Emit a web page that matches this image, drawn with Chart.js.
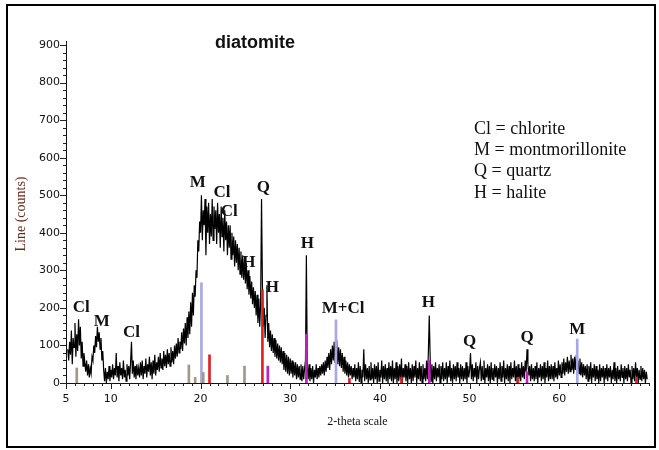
<!DOCTYPE html>
<html>
<head>
<meta charset="utf-8">
<script src="https://cdn.jsdelivr.net/npm/chart.js@4.4.0/dist/chart.umd.min.js"></script>
<style>
  html, body { margin: 0; padding: 0; background: #fff; }
  #xrd { display: block; }
</style>
</head>
<body>
<canvas id="xrd" width="659" height="450"></canvas>
<script>
// XRD scan of diatomite: 2-theta from 5.2 to 69.8 deg, step 0.1, counts
const scanStart = 5.2;
const scanStep = 0.1;
const scanCounts = [
    90, 60, 110, 75, 140, 50, 120, 95, 160, 70, 130, 85, 170, 100, 150, 65, 110, 45, 80, 55,
    30, 60, 20, 50, 15, 40, 25, 70, 60, 100, 80, 125, 95, 150, 110, 135, 90, 120, 60, 85,
    35, 5, 40, 0, 30, 10, 45, 5, 35, 15, 50, 10, 40, 20, 80, 15, 45, 5, 55, 20,
    40, 10, 60, 15, 35, 5, 50, 20, 45, 10, 55, 110, 25, 60, 15, 45, 10, 50, 20, 40,
    15, 55, 20, 60, 10, 45, 25, 65, 15, 50, 30, 70, 20, 55, 10, 60, 25, 75, 20, 55,
    35, 70, 30, 80, 40, 65, 35, 85, 45, 75, 40, 90, 50, 80, 45, 95, 55, 85, 50, 100,
    65, 105, 70, 120, 80, 110, 90, 135, 85, 145, 105, 160, 100, 175, 120, 190, 130, 215, 150, 240,
    180, 260, 230, 300, 280, 380, 350, 430, 400, 500, 380, 460, 420, 490, 340, 470, 400, 480, 370, 450,
    390, 490, 380, 470, 410, 460, 370, 480, 400, 450, 360, 470, 390, 440, 350, 460, 380, 430, 340, 420,
    360, 420, 330, 400, 340, 390, 310, 380, 320, 370, 300, 360, 290, 350, 280, 340, 275, 330, 265, 320,
    250, 300, 235, 285, 225, 270, 210, 255, 200, 245, 180, 235, 160, 225, 150, 210, 490, 260, 150, 200,
    120, 180, 260, 110, 160, 95, 140, 85, 130, 80, 120, 70, 115, 65, 105, 60, 100, 55, 95, 50,
    85, 35, 80, 30, 75, 25, 70, 20, 65, 25, 60, 15, 55, 20, 55, 10, 50, 15, 45, 10,
    50, 5, 45, 10, 40, 60, 340, 45, 10, 50, 5, 40, 10, 45, 0, 35, 15, 50, 10, 40,
    15, 45, 20, 50, 25, 55, 20, 60, 30, 70, 40, 80, 35, 90, 50, 100, 60, 110, 55, 95,
    105, 50, 95, 45, 90, 40, 80, 30, 70, 25, 60, 20, 55, 15, 50, 20, 45, 10, 40, 15,
    50, 5, 40, 10, 55, 3, 45, 0, 35, 15, 90, 5, 50, 10, 40, 0, 45, 8, 55, 10,
    40, 0, 50, 10, 45, 0, 55, 5, 35, 15, 60, 0, 45, 10, 50, 5, 40, 0, 55, 10,
    45, 5, 60, 0, 40, 10, 55, 0, 45, 5, 50, 10, 65, 0, 40, 15, 50, 5, 45, 0,
    55, 10, 40, 0, 50, 5, 45, 15, 60, 0, 40, 10, 55, 5, 45, 0, 50, 10, 40, 5,
    60, 10, 80, 180, 70, 5, 50, 0, 45, 10, 55, 5, 40, 15, 50, 0, 45, 10, 55, 5,
    40, 10, 55, 0, 45, 15, 60, 5, 40, 0, 50, 10, 45, 5, 55, 15, 40, 0, 50, 10,
    45, 5, 40, 10, 55, 0, 45, 15, 35, 80, 10, 50, 5, 40, 15, 55, 0, 45, 10, 40,
    55, 5, 45, 10, 60, 0, 40, 15, 50, 5, 45, 0, 55, 10, 40, 5, 50, 15, 45, 0,
    40, 10, 55, 5, 45, 15, 60, 0, 40, 10, 50, 5, 45, 0, 55, 10, 40, 15, 60, 5,
    45, 0, 50, 10, 40, 5, 55, 15, 45, 10, 60, 30, 90, 50, 20, 45, 5, 50, 10, 40,
    5, 45, 10, 55, 0, 40, 15, 50, 5, 45, 10, 55, 0, 40, 15, 60, 5, 45, 10, 50,
    10, 45, 5, 55, 15, 40, 10, 60, 20, 50, 15, 55, 25, 65, 20, 55, 30, 70, 25, 60,
    30, 75, 35, 65, 25, 70, 35, 75, 30, 60, 25, 65, 20, 55, 15, 50, 20, 45, 10, 50,
    5, 45, 10, 55, 0, 40, 15, 50, 5, 45, 10, 35, 0, 50, 5, 40, 15, 45, 0, 40,
    10, 50, 5, 40, 15, 45, 0, 35, 10, 55, 5, 40, 0, 45, 10, 35, 5, 50, 15, 40,
    0, 45, 10, 40, 5, 50, 15, 35, 0, 45, 10, 40, 5, 55, 15, 40, 0, 35, 10, 45,
    5, 40, 10, 35, 0, 30, 10
];

// Reference stick patterns (position in 2-theta, height in counts)
const grayAngle = [6.2, 18.7, 19.4, 20.3, 23.0, 24.9];
const grayHeight = [40, 48, 15, 28, 20, 45];
const blueAngle = [20.1, 35.1, 62.0];
const blueHeight = [267, 168, 117];
const redAngle = [21.0, 26.9, 36.6, 42.4, 55.4, 68.6];
const redHeight = [75, 248, 12, 15, 15, 15];
const magentaAngle = [27.5, 31.8, 45.5, 56.4];
const magentaHeight = [45, 130, 60, 30];

// Peak annotations
const peakNames = ['Cl', 'M', 'Cl', 'M', 'Cl', 'Cl', 'H', 'Q', 'H', 'H', 'M+Cl', 'H', 'Q', 'Q', 'M'];
const peakAngle = [6.7, 9.0, 12.3, 19.7, 22.4, 23.2, 25.4, 27.0, 28.0, 31.9, 35.9, 45.4, 50.0, 56.4, 62.0];
const peakCount = [200, 163, 133, 533, 507, 456, 320, 520, 253, 371, 197, 213, 109, 120, 141];

const legendLines = ['Cl = chlorite', 'M = montmorillonite', 'Q = quartz', 'H = halite'];

// Axis labels
const xTickLabels = [5, 10, 20, 30, 40, 50, 60];
const yTickLabels = [0, 100, 200, 300, 400, 500, 600, 700, 800, 900];

function toPoints(xs, ys) {
    return xs.map((x, i) => ({ x: x, y: ys[i] }));
}

const scanPoints = scanCounts.map((c, i) => ({ x: +(scanStart + i * scanStep).toFixed(1), y: c }));

function stickDataset(xs, ys, color) {
    return {
        type: 'bar',
        data: toPoints(xs, ys),
        backgroundColor: color,
        borderWidth: 0,
        barThickness: 2,
        grouped: false,
        order: 1
    };
}

// Tick marks, title, legend text, peak names and frame
const decorations = {
    id: 'decorations',
    afterDraw(chart) {
        const { ctx, scales: { x, y } } = chart;
        ctx.save();

        ctx.strokeStyle = '#222';
        ctx.lineWidth = 1;
        ctx.beginPath();
        x.ticks.forEach(t => {
            const px = Math.round(x.getPixelForValue(t.value)) + 0.5;
            const len = xTickLabels.includes(t.value) ? 6 : 3;
            ctx.moveTo(px, y.bottom);
            ctx.lineTo(px, y.bottom + len);
        });
        y.ticks.forEach(t => {
            const py = Math.round(y.getPixelForValue(t.value)) + 0.5;
            const len = yTickLabels.includes(t.value) ? 6 : 3;
            ctx.moveTo(x.left, py);
            ctx.lineTo(x.left - len, py);
        });
        // axis runs a little past 900
        ctx.moveTo(x.left + 0.5, y.top);
        ctx.lineTo(x.left + 0.5, y.top - 4);
        ctx.stroke();

        // peak names
        ctx.fillStyle = '#111';
        ctx.font = 'bold 17px "Liberation Serif", serif';
        ctx.textAlign = 'center';
        ctx.textBaseline = 'middle';
        peakNames.forEach((name, i) => {
            ctx.fillText(name, x.getPixelForValue(peakAngle[i]), y.getPixelForValue(peakCount[i]));
        });

        // title
        ctx.font = 'bold 18px "Liberation Sans", Arial, sans-serif';
        ctx.fillText('diatomite', 255, 43);

        // legend text
        ctx.font = '18px "Liberation Serif", serif';
        ctx.textAlign = 'left';
        legendLines.forEach((line, i) => {
            ctx.fillText(line, 474, 129 + i * 21.3);
        });

        // outer frame
        ctx.strokeStyle = '#000';
        ctx.lineWidth = 2;
        ctx.strokeRect(7, 5, 648, 442);

        ctx.restore();
    }
};

new Chart(document.getElementById('xrd'), {
    type: 'line',
    data: {
        datasets: [
            {
                data: scanPoints,
                borderColor: '#000',
                borderWidth: 1.2,
                pointRadius: 0,
                tension: 0,
                order: 2
            },
            stickDataset(grayAngle, grayHeight, '#a09888'),
            stickDataset(blueAngle, blueHeight, '#a8a8e8'),
            stickDataset(redAngle, redHeight, '#e02020'),
            stickDataset(magentaAngle, magentaHeight, '#c020c0')
        ]
    },
    options: {
        responsive: false,
        animation: false,
        layout: {
            padding: { left: 9, top: 45, right: 9, bottom: 17 }
        },
        scales: {
            x: {
                type: 'linear',
                min: 5,
                max: 70,
                offset: false,
                afterFit: scale => { scale.height = 50; },
                grid: { display: false, drawTicks: false },
                border: { display: true, color: '#111', width: 1 },
                ticks: {
                    stepSize: 1,
                    autoSkip: false,
                    maxRotation: 0,
                    padding: 10,
                    color: '#111',
                    font: { family: '"DejaVu Sans", sans-serif', size: 11 },
                    callback: v => xTickLabels.includes(v) ? String(v) : ''
                },
                title: {
                    display: true,
                    text: '2-theta scale',
                    color: '#111',
                    padding: { top: 0, bottom: 4 },
                    font: { family: '"Liberation Serif", serif', size: 12 }
                }
            },
            y: {
                min: 0,
                max: 900,
                afterFit: scale => { scale.width = 57; },
                grid: { display: false, drawTicks: false },
                border: { display: true, color: '#111', width: 1 },
                ticks: {
                    stepSize: 20,
                    autoSkip: false,
                    padding: 6,
                    color: '#111',
                    font: { family: '"DejaVu Sans", sans-serif', size: 11 },
                    callback: v => yTickLabels.includes(v) ? String(v) : ''
                },
                title: {
                    display: true,
                    text: 'Line (counts)',
                    color: '#6a2a18',
                    padding: { top: 4, bottom: 0 },
                    font: { family: '"Liberation Serif", serif', size: 14 }
                }
            }
        },
        plugins: {
            legend: { display: false },
            tooltip: { enabled: false }
        }
    },
    plugins: [decorations]
});
</script>
</body>
</html>
